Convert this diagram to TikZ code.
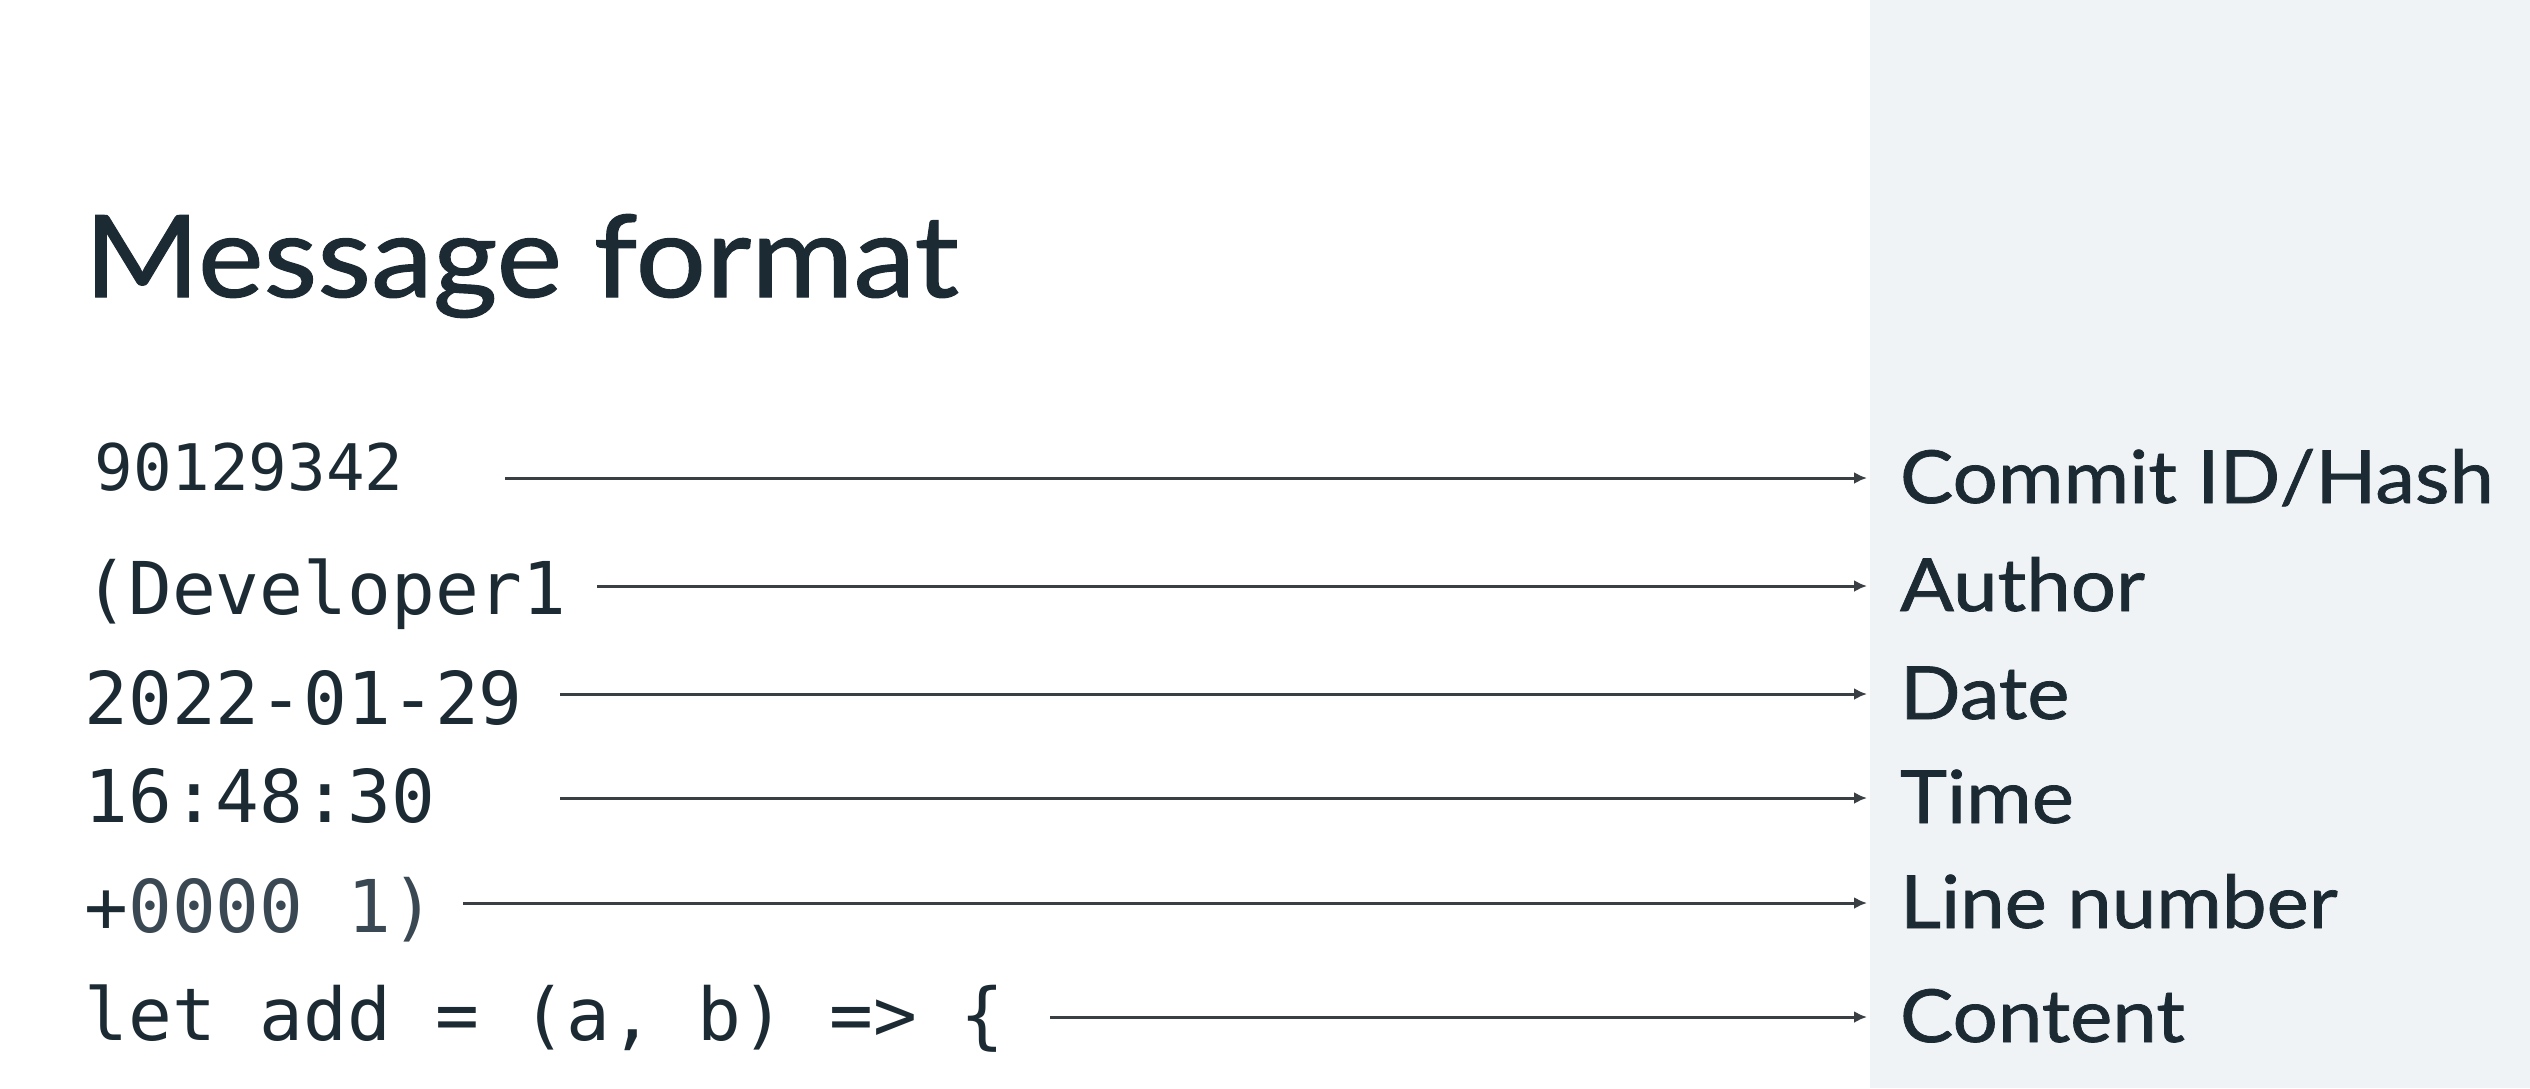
\documentclass[tikz,border=0pt]{standalone}
\usepackage{fontspec}
\setmainfont{Lato}[FakeBold=1.0, FakeStretch=1.09]
\setmonofont{DejaVu Sans Mono}
\usetikzlibrary{arrows.meta}
\definecolor{ink}{HTML}{1C2B33}
\definecolor{inklight}{HTML}{3A4853}
\definecolor{panel}{HTML}{EFF3F6}
\definecolor{wire}{HTML}{3A3F44}
\begin{document}
\begin{tikzpicture}[x=0.5pt,y=-0.5pt,
  titletext/.style={anchor=base west, inner sep=0pt, text=ink, font=\fontsize{57pt}{60pt}\selectfont},
  code/.style={anchor=base west, inner sep=0pt, text=ink, font=\ttfamily\fontsize{36.4pt}{40pt}\selectfont},
  codesmall/.style={code, font=\ttfamily\fontsize{32.1pt}{36pt}\selectfont},
  label/.style={anchor=base west, inner ysep=0pt, inner xsep=16.5pt, outer sep=0pt, text=ink, font=\fontsize{36.6pt}{40pt}\selectfont},
  conn/.style={draw=wire, line width=1.5pt, -{Latex[length=6.5pt,width=6pt]}}
]
\useasboundingbox (0,0) rectangle (2530,1088);
\fill[white] (0,0) rectangle (2530,1088);
\fill[panel] (1870,0) rectangle (2530,1088);

\node[titletext] (title) at (84,297) {Message format};

% left code column
\node[codesmall] (c1) at (94,490) {90129342};
\node[code] (c2) at (84,614) {(Developer1};
\node[code] (c3) at (84,724) {2022-01-29};
\node[code] (c4) at (84,822) {16:48:30};
\node[code] (c5) at (84,932) {+\textcolor{inklight}{0000 1)}};
\node[code] (c6) at (84,1040) {let add = (a, b) => \{};

% right labels
\node[label] (l1) at (1867,503) {Commit ID/Hash};
\node[label] (l2) at (1867,611) {Author};
\node[label] (l3) at (1867,719) {Date};
\node[label] (l4) at (1867,823) {Time};
\node[label] (l5) at (1867,928) {Line number};
\node[label] (l6) at (1867,1042) {Content};

% connector start points
\coordinate (s1) at (505,478);
\coordinate (s2) at (597,586);
\coordinate (s3) at (560,694);
\coordinate (s4) at (560,798);
\coordinate (s5) at (463,903);
\coordinate (s6) at (1050,1017);

\draw[conn] (s1) -- (s1 -| l1.west);
\draw[conn] (s2) -- (s2 -| l2.west);
\draw[conn] (s3) -- (s3 -| l3.west);
\draw[conn] (s4) -- (s4 -| l4.west);
\draw[conn] (s5) -- (s5 -| l5.west);
\draw[conn] (s6) -- (s6 -| l6.west);
\end{tikzpicture}
\end{document}
